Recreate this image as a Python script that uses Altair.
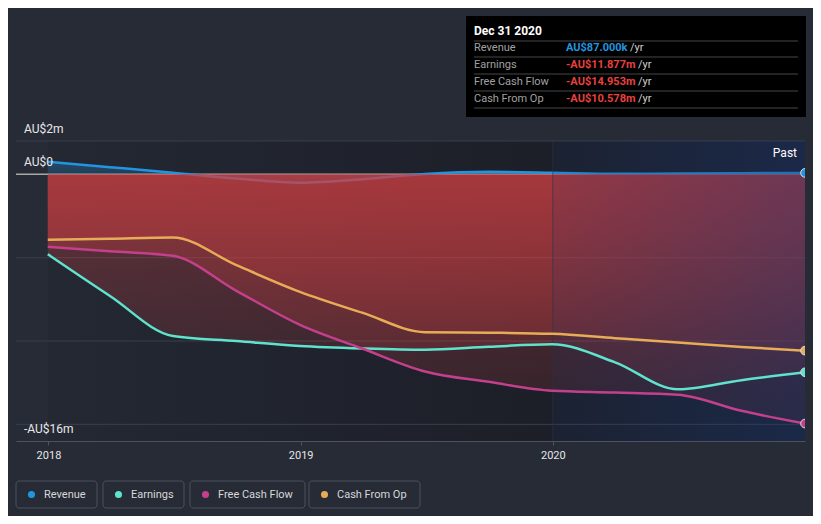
import altair as alt
import pandas as pd

# ---------------- data ----------------
dates = ["2017-12-31", "2018-03-31", "2018-06-30", "2018-09-30", "2018-12-31",
         "2019-03-31", "2019-06-30", "2019-09-30", "2019-12-31",
         "2020-03-31", "2020-06-30", "2020-09-30", "2020-12-31"]
revenue = [0.75, 0.43, 0.10, -0.25, -0.50, -0.30, 0.02, 0.15, 0.10, 0.03, 0.05, 0.07, 0.087]
earnings = [-4.80, -7.30, -9.70, -10.00, -10.30, -10.45, -10.53, -10.35, -10.20, -11.28, -12.90, -12.35, -11.877]
fcf = [-4.35, -4.62, -4.89, -6.99, -9.03, -10.45, -11.83, -12.45, -12.99, -13.09, -13.23, -14.19, -14.953]
cfo = [-3.93, -3.86, -3.79, -5.45, -7.05, -8.30, -9.47, -9.50, -9.57, -9.83, -10.09, -10.36, -10.578]

series_names = ["Revenue", "Earnings", "Free Cash Flow", "Cash From Op"]
series_colors = ["#2394DF", "#5FE3CD", "#C4408C", "#E8AC58"]

y_ticks = [2, 0, -16]
y_tick_labels = ["AU$2m", "AU$0", "-AU$16m"]
grid_values = [2, -5, -10, -15]
x_tick_years = [2018, 2019, 2020]
past_start = "2020-01-01"

tooltip_title = "Dec 31 2020"
tooltip_values = ["AU$87.000k", "-AU$11.877m", "-AU$14.953m", "-AU$10.578m"]

rows = []
for name, vals in zip(series_names, [revenue, earnings, fcf, cfo]):
    for d, v in zip(dates, vals):
        rows.append({"date": d, "series": name, "value": v})
df = pd.DataFrame(rows)
neg = df[df.series != "Revenue"]
rev = df[df.series == "Revenue"]
last = df[df.date == dates[-1]]

FONT = "Roboto"
one = pd.DataFrame({"k": [0]})

# ---------------- scales ----------------
x_scale = alt.Scale(type="utc", domain=[alt.DateTime(year=2017, month=11, date=15, utc=True),
                                         alt.DateTime(year=2020, month=12, date=31, utc=True)])
x_axis = alt.Axis(values=[alt.DateTime(year=y, month=1, date=1, utc=True) for y in x_tick_years],
                  format="%Y", formatType="utc", grid=False, domainColor="#4d525e",
                  tickColor="#4d525e", tickSize=4, labelColor="#e6e6e6", labelFontSize=11,
                  labelFont=FONT, labelPadding=4, title=None, labelFlush=False)
y_scale = alt.Scale(domain=[-16, 2], nice=False, zero=False)


def X(field):
    return alt.X(field, scale=x_scale, axis=x_axis)


Y = alt.Y("value:Q", scale=y_scale, axis=None)

layers = []

# background region for the data span
bg_df = pd.DataFrame({"start": [dates[0]], "end": [past_start]})
bg_grad = alt.LinearGradient(gradient="linear", x1=0, x2=1, y1=0, y2=0,
                             stops=[alt.GradientStop(offset=0, color="#242833"),
                                    alt.GradientStop(offset=1, color="#1c1f28")])
layers.append(alt.Chart(bg_df).mark_rect(fill=bg_grad).encode(
    x=X("start:T"), x2="end:T", y=alt.value(0), y2=alt.value(300)))
past_df = pd.DataFrame({"start": [past_start], "end": [dates[-1]]})
layers.append(alt.Chart(past_df).mark_rect(fill="#1c1f28").encode(
    x=X("start:T"), x2="end:T", y=alt.value(0), y2=alt.value(300)))

# grid lines
grid_df = pd.DataFrame({"g": grid_values})
layers.append(alt.Chart(grid_df).mark_rule(color="#3a3f4b", strokeWidth=1).encode(
    y=alt.Y("g:Q", scale=y_scale, axis=None)))
zero_df = pd.DataFrame({"z": [0]})
layers.append(alt.Chart(zero_df).mark_rule(color="#a8a8a8", strokeWidth=1.5).encode(
    y=alt.Y("z:Q", scale=y_scale, axis=None)))

# revenue area + line (under the red areas)
blue_grad = alt.LinearGradient(gradient="linear", x1=0, x2=0, y1=0, y2=1,
                               stops=[alt.GradientStop(offset=0, color="rgba(35,148,223,0.30)"),
                                      alt.GradientStop(offset=1, color="rgba(35,148,223,0.15)")])
layers.append(alt.Chart(rev).mark_area(fill=blue_grad, interpolate="monotone").encode(
    x=X("date:T"), y=Y, y2=alt.datum(0)))
layers.append(alt.Chart(rev).mark_line(interpolate="monotone", strokeWidth=2.5,
                                       color=series_colors[0]).encode(x=X("date:T"), y=Y))

# negative areas
red_grad = alt.LinearGradient(gradient="linear", x1=0, x2=0, y1=0, y2=1,
                              stops=[alt.GradientStop(offset=0, color="rgba(207,63,66,0.38)"),
                                     alt.GradientStop(offset=1, color="rgba(207,63,66,0.12)")])
layers.append(alt.Chart(neg).mark_area(fill=red_grad, interpolate="monotone").encode(
    x=X("date:T"), y=Y, y2=alt.datum(0), detail="series:N"))

# past overlay
ov_grad = alt.LinearGradient(gradient="linear", x1=0, x2=1, y1=0, y2=0,
                             stops=[alt.GradientStop(offset=0, color="rgba(25,55,120,0.12)"),
                                    alt.GradientStop(offset=1, color="rgba(25,55,120,0.40)")])
layers.append(alt.Chart(past_df).mark_rect(fill=ov_grad).encode(
    x=X("start:T"), x2="end:T", y=alt.value(0), y2=alt.value(300)))
layers.append(alt.Chart(past_df).mark_rule(color="#2a3446", strokeWidth=1, opacity=0.6).encode(
    x=X("start:T"), y=alt.value(0), y2=alt.value(300)))

# lines
color_enc = alt.Color("series:N", scale=alt.Scale(domain=series_names, range=series_colors), legend=None)
layers.append(alt.Chart(neg).mark_line(interpolate="monotone", strokeWidth=2.5).encode(
    x=X("date:T"), y=Y, color=color_enc, detail="series:N"))

# end points
layers.append(alt.Chart(last).mark_circle(size=75, opacity=1, stroke="#dddddd", strokeWidth=1,
                                          clip=True).encode(x=X("date:T"), y=Y, color=color_enc))

# y labels
ylab_df = pd.DataFrame({"v": y_ticks, "t": y_tick_labels})
layers.append(alt.Chart(ylab_df).mark_text(align="left", baseline="middle", dy=-12, font=FONT,
                                           fontSize=12, color="#e8e8e8").encode(
    x=alt.value(8), y=alt.Y("v:Q", scale=y_scale, axis=None), text="t:N"))

# "Past" label
layers.append(alt.Chart(one).mark_text(align="right", baseline="middle", font=FONT, fontSize=12,
                                       color="#ffffff").encode(
    x=alt.value(781), y=alt.value(12), text=alt.value("Past")))

# tooltip box
layers.append(alt.Chart(one).mark_rect(fill="#000000").encode(
    x=alt.value(450), x2=alt.value(790), y=alt.value(-125), y2=alt.value(-24)))
layers.append(alt.Chart(one).mark_text(align="left", baseline="middle", font=FONT, fontSize=12,
                                       fontWeight="bold", color="#ffffff").encode(
    x=alt.value(458), y=alt.value(-110), text=alt.value(tooltip_title)))
for sy in [-100, -84, -67, -50, -33]:
    layers.append(alt.Chart(one).mark_rule(color="#474747", strokeWidth=1).encode(
        x=alt.value(458), x2=alt.value(782), y=alt.value(sy)))
row_y = [-93, -76, -59, -42]
suffix_x = [614, 622, 622, 622]
value_colors = ["#2394DF", "#E8413F", "#E8413F", "#E8413F"]
for name, val, vc, ry, sx in zip(series_names, tooltip_values, value_colors, row_y, suffix_x):
    layers.append(alt.Chart(one).mark_text(align="left", baseline="middle", font=FONT, fontSize=11,
                                           color="#a0a0a0").encode(
        x=alt.value(458), y=alt.value(ry), text=alt.value(name)))
    layers.append(alt.Chart(one).mark_text(align="left", baseline="middle", font=FONT, fontSize=11,
                                           fontWeight="bold", color=vc).encode(
        x=alt.value(550), y=alt.value(ry), text=alt.value(val)))
    layers.append(alt.Chart(one).mark_text(align="left", baseline="middle", font=FONT, fontSize=11,
                                           color="#d0d0d0").encode(
        x=alt.value(sx), y=alt.value(ry), text=alt.value("/yr")))

# legend
box_x = [(0, 81), (87, 168), (174, 289), (293, 404)]
for name, col, (bx0, bx1) in zip(series_names, series_colors, box_x):
    layers.append(alt.Chart(one).mark_rect(fill="#262b36", stroke="#4b505c", strokeWidth=1,
                                           cornerRadius=3).encode(
        x=alt.value(bx0), x2=alt.value(bx1), y=alt.value(340), y2=alt.value(367)))
    layers.append(alt.Chart(one).mark_circle(size=50, opacity=1, color=col).encode(
        x=alt.value(bx0 + 15.5), y=alt.value(353.5)))
    layers.append(alt.Chart(one).mark_text(align="left", baseline="middle", font=FONT, fontSize=11,
                                           color="#d8d8d8").encode(
        x=alt.value(bx0 + 28), y=alt.value(353.5), text=alt.value(name)))

chart = alt.layer(*layers).properties(
    width=789, height=300,
    padding={"left": 8, "top": 133, "right": 8, "bottom": 75},
    autosize=alt.AutoSizeParams(type="none"),
).configure(background="#262b36").configure_view(stroke=None)

chart.save("out.html", embed_options={"renderer": "svg", "actions": False})
